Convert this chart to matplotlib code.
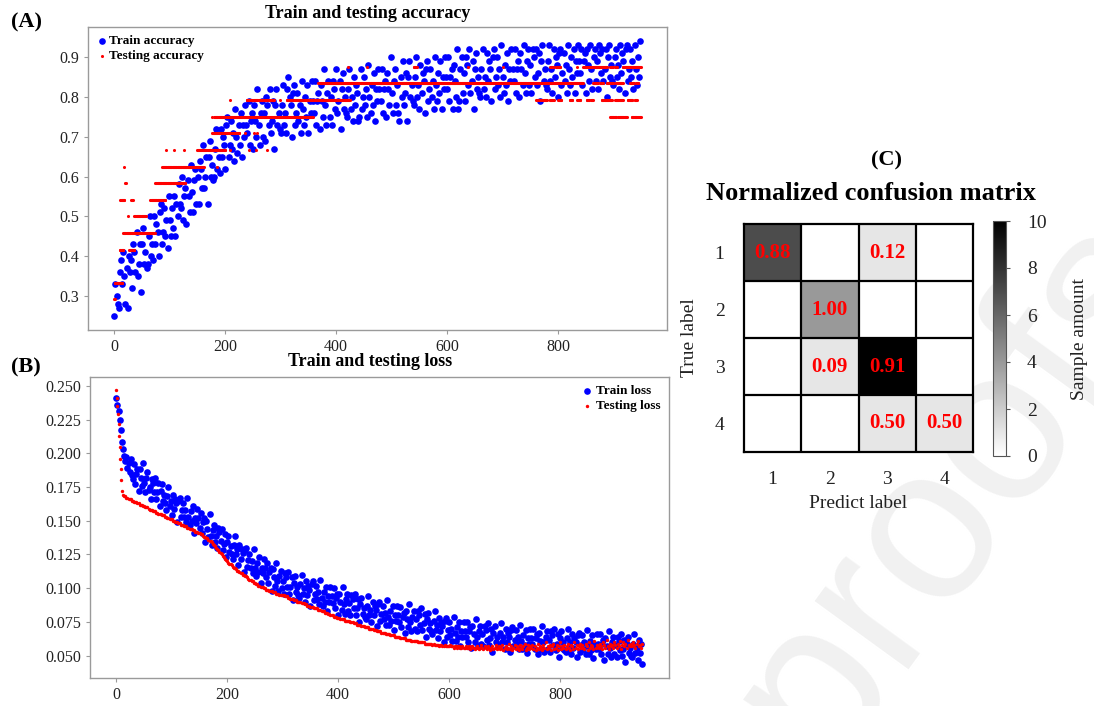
import numpy as np
import matplotlib
matplotlib.use("Agg")
import matplotlib.pyplot as plt

plt.rcParams["font.family"] = ["Liberation Serif", "DejaVu Serif"]

# ------------------------------------------------------------------ data
STEP = 2  # typed training curves are read every 2 epochs (0, 2, ..., 948)

# train accuracy, percent
train_acc_pct = [
    25,33,30,28,27,36,39,33,41,35,28,37,27,40,36,
    39,32,43,41,36,46,35,38,43,31,43,47,38,41,37,
    38,45,50,40,43,39,50,43,48,46,40,51,53,43,46,
    52,45,49,42,55,49,45,52,47,55,45,53,50,58,53,
    52,60,49,55,57,48,59,55,51,63,56,51,59,62,53,
    60,53,64,62,57,68,57,60,65,53,65,69,60,63,59,
    60,67,72,62,65,61,72,65,70,68,62,73,75,65,68,
    74,67,71,64,77,70,66,73,68,76,65,73,70,78,73,
    71,79,68,74,76,67,78,74,70,82,73,68,76,79,70,
    76,69,80,78,73,82,71,74,79,67,78,82,73,76,72,
    71,78,83,73,76,71,82,85,80,78,70,81,83,73,76,
    81,74,78,71,84,77,73,80,75,83,71,79,76,84,79,
    76,84,73,79,81,72,83,79,75,87,78,73,81,84,75,
    80,73,84,82,77,87,76,79,84,72,82,86,77,80,76,
    75,82,87,77,80,74,85,78,83,81,74,75,87,77,80,
    85,78,82,75,88,80,76,83,78,86,74,82,79,87,82,
    79,87,76,82,84,75,86,82,78,90,81,76,84,87,78,
    83,76,74,85,80,89,78,81,86,74,85,89,80,83,79,
    78,85,90,80,83,77,88,81,86,84,76,87,89,79,82,
    87,80,84,77,90,83,79,86,81,89,77,85,82,90,85,
    82,90,79,85,87,77,88,84,80,92,77,79,87,90,81,
    86,79,90,88,83,92,81,84,89,77,87,91,82,85,81,
    80,87,92,82,85,80,91,84,89,87,79,90,92,82,85,
    90,83,87,80,93,85,81,88,83,91,79,87,84,92,87,
    84,92,81,87,89,80,91,87,83,93,86,81,89,92,83,
    88,81,92,90,85,92,83,86,91,79,89,93,84,87,83,
    82,89,93,84,87,81,92,85,90,88,80,91,92,83,86,
    91,84,88,81,93,87,83,90,85,92,81,89,86,93,89,
    86,92,83,89,91,81,92,88,84,93,87,82,90,92,84,
    89,82,93,91,86,92,84,87,92,80,90,93,85,88,84,
    83,90,92,85,88,82,93,86,91,89,81,92,93,84,87,
    92,85,89,82,93,87,83,90,85,94,
]

# train loss, thousandths
train_loss_milli = [
    241,236,231,225,217,208,203,198,194,197,189,193,186,196,184,
    181,192,177,185,188,172,188,182,176,193,178,171,182,186,173,
    175,166,181,178,171,182,166,171,178,161,172,177,165,169,163,
    158,168,175,161,165,154,169,159,166,163,149,165,167,153,158,
    163,153,158,149,167,153,147,157,150,161,141,152,148,159,152,
    145,156,141,149,152,134,150,144,138,155,139,132,143,147,134,
    139,130,145,142,135,144,128,133,140,123,134,139,127,131,125,
    122,132,139,125,129,117,132,122,129,126,112,128,130,116,121,
    125,115,120,111,129,115,109,119,112,123,104,115,111,122,115,
    108,119,104,112,115,98,114,108,102,119,105,98,109,113,100,
    105,96,111,108,101,112,96,101,108,91,104,109,97,101,95,
    93,103,110,96,100,90,105,95,102,99,87,103,105,91,96,
    102,92,97,88,106,93,87,97,90,101,83,94,90,101,94,
    89,100,85,93,96,80,96,90,84,101,88,81,92,96,83,
    89,80,95,92,85,96,80,85,92,75,88,93,81,85,79,
    77,87,94,80,84,75,90,80,87,84,72,88,90,76,81,
    87,77,82,73,91,79,73,83,76,87,69,80,76,87,80,
    75,86,71,79,82,67,83,77,71,88,75,68,79,83,70,
    77,68,83,80,73,85,69,74,81,64,77,82,70,74,68,
    66,76,83,69,73,63,78,68,75,72,60,76,78,64,69,
    75,65,70,61,79,67,61,71,64,75,57,68,64,75,68,
    64,75,60,68,71,56,72,66,60,77,64,57,68,72,59,
    66,57,72,69,62,74,58,63,70,53,67,72,60,64,58,
    57,67,74,60,64,55,70,60,67,64,53,69,71,57,62,
    69,59,64,55,73,61,55,65,58,69,52,63,59,70,63,
    59,70,55,63,66,51,67,61,55,72,60,53,64,68,55,
    62,53,68,65,58,70,54,59,66,49,63,68,56,60,54,
    53,63,70,56,60,51,66,56,63,60,49,65,67,53,58,
    65,55,60,51,69,57,51,61,54,65,48,59,55,66,59,
    55,66,51,59,62,47,63,57,51,68,56,49,60,64,51,
    58,49,64,61,54,66,50,55,62,45,59,64,52,56,50,
    49,59,66,52,56,47,62,52,59,44,
]

# testing loss, thousandths (same epochs as above)
test_loss_milli = [
    247,235,222,205,188,172,169,168,168,167,167,166,166,166,165,
    165,164,164,164,163,163,162,162,162,161,161,160,160,160,159,
    158,158,158,157,157,157,156,156,155,155,155,154,154,154,153,
    153,152,152,151,151,151,150,150,149,149,149,148,148,147,147,
    147,146,146,146,145,145,144,144,144,143,143,142,142,142,141,
    141,140,140,139,138,138,137,137,136,135,135,134,133,132,131,
    130,129,128,127,126,125,124,123,122,121,120,119,118,118,117,
    116,115,115,114,113,113,112,111,111,110,110,109,109,108,107,
    106,106,105,105,104,104,103,103,102,102,101,101,101,100,100,
    99,99,99,98,98,98,97,97,97,96,96,96,95,95,95,
    95,95,94,94,94,93,93,92,92,92,91,91,91,90,90,
    90,90,89,89,89,88,88,87,87,87,86,86,86,85,85,
    85,85,84,84,84,83,83,83,82,82,82,81,81,80,80,
    80,79,79,79,78,78,78,77,77,77,77,76,76,76,76,
    76,75,75,75,74,74,74,73,73,73,73,72,72,72,71,
    71,71,71,70,70,70,70,69,69,69,68,68,68,68,67,
    67,67,67,66,66,66,66,65,65,65,65,64,64,64,64,
    64,63,63,63,63,63,62,62,62,62,62,61,61,61,61,
    61,61,60,60,60,60,60,60,59,59,59,59,59,59,59,
    58,59,58,58,58,58,57,58,58,57,57,58,57,57,57,
    57,58,57,57,56,57,57,56,57,57,56,56,57,56,56,
    57,56,56,57,55,56,57,56,55,56,57,56,55,56,58,
    56,55,57,56,55,57,56,54,56,57,55,56,58,55,56,
    57,55,56,58,54,56,57,55,56,59,55,57,54,56,58,
    55,57,56,54,58,56,55,57,59,54,56,58,55,57,56,
    58,55,57,54,56,59,55,57,56,54,58,56,60,55,57,
    56,58,54,57,59,55,56,58,54,57,60,55,57,56,58,
    55,57,59,56,54,58,57,55,60,56,58,55,57,59,56,
    58,56,55,59,57,54,60,56,58,57,55,61,56,58,57,
    56,59,57,55,60,58,56,62,57,55,59,57,58,56,60,
    58,56,59,57,61,55,58,60,57,59,56,62,58,57,59,
    57,60,58,56,59,61,57,58,56,59,
]
# extra testing-loss readings on the steep first epochs
test_loss_odd_epochs = [1, 3, 5, 7, 9]
test_loss_odd_milli = [241, 229, 213, 196, 180]

# testing accuracy: test set of 24 samples; (first epoch, last epoch, correct)
TEST_SIZE = 24
test_acc_segments = [
    (0, 1, 7), (1, 14, 8),
    (10, 16, 10), (27, 36, 10),
    (16, 73, 11),
    (25, 25, 12), (36, 57, 12),
    (11, 18, 13), (30, 33, 13), (65, 92, 13),
    (20, 21, 14), (74, 128, 14),
    (17, 17, 15), (86, 161, 15), (185, 185, 15),
    (93, 93, 16), (107, 107, 16), (125, 125, 16), (149, 200, 16), (209, 209, 16),
    (242, 242, 16), (256, 256, 16), (275, 275, 16),
    (176, 225, 17), (236, 236, 17), (252, 252, 17), (257, 257, 17),
    (176, 176, 18), (180, 358, 18),
    (894, 905, 18), (909, 924, 18), (933, 942, 18), (945, 949, 18),
    (209, 209, 19), (239, 287, 19), (299, 299, 19), (311, 425, 19),
    (761, 768, 19), (772, 780, 19), (785, 792, 19), (800, 806, 19), (821, 826, 19),
    (835, 840, 19), (852, 856, 19), (860, 863, 19), (879, 897, 19), (903, 917, 19),
    (926, 934, 19), (938, 942, 19),
    (368, 845, 20), (863, 872, 20), (876, 881, 20), (888, 900, 20), (904, 917, 20),
    (930, 937, 20), (941, 945, 20),
    (421, 421, 21), (455, 455, 21), (540, 545, 21), (638, 638, 21), (701, 701, 21),
    (786, 792, 21), (797, 804, 21), (834, 834, 21), (845, 888, 21), (894, 899, 21),
    (903, 906, 21), (917, 949, 21),
]

# confusion matrix
class_labels = ["1", "2", "3", "4"]
conf_counts = [[7, 0, 1, 0],
               [0, 4, 0, 0],
               [0, 1, 10, 0],
               [0, 0, 1, 1]]
conf_norm = [[0.88, 0.00, 0.12, 0.00],
             [0.00, 1.00, 0.00, 0.00],
             [0.00, 0.09, 0.91, 0.00],
             [0.00, 0.00, 0.50, 0.50]]
cbar_ticks = [0, 2, 4, 6, 8, 10]

# ------------------------------------------------------------------ figure
W, H = 1094, 706
fig = plt.figure(figsize=(W / 100, H / 100), dpi=100)
fig.patch.set_facecolor("white")

BLUE, RED = "#0000ff", "#ff0000"
TXT = "#222222"


def style_axes(ax):
    for sp in ax.spines.values():
        sp.set_color("#9a9a9a")
        sp.set_linewidth(1.0)
    ax.tick_params(colors="#9a9a9a", labelcolor=TXT, labelsize=11.5,
                   length=3, width=0.8)


# watermark
fig.text(0.875, 0.31, "proofs", rotation=54, fontsize=158, color="#f1f1f1",
         ha="center", va="center", family="Liberation Sans", zorder=-5)

# ---------------- (A) accuracy
axA = fig.add_axes([88 / W, 1 - 330 / H, 579 / W, 303 / H])
ep = np.arange(len(train_acc_pct)) * STEP
axA.scatter(ep, np.array(train_acc_pct) / 100.0, s=23, c=BLUE, linewidths=0,
            label="Train accuracy", zorder=2)
ta_x, ta_y = [], []
for s0, s1, k in test_acc_segments:
    e = np.arange(s0, s1 + 1)
    ta_x.append(e)
    ta_y.append(np.full(len(e), k / TEST_SIZE))
ta_x = np.concatenate(ta_x)
ta_y = np.concatenate(ta_y)
axA.scatter(ta_x, ta_y, s=5, c=RED, linewidths=0, label="Testing accuracy",
            zorder=3)
axA.set_xlim(-47.5, 996.5)
axA.set_ylim(0.215, 0.975)
axA.set_xticks([0, 200, 400, 600, 800])
axA.set_yticks([0.3, 0.4, 0.5, 0.6, 0.7, 0.8, 0.9])
style_axes(axA)
axA.legend(loc="upper left", frameon=False, prop={"weight": "bold", "size": 9.5},
           handletextpad=0.1, labelspacing=0.2, borderaxespad=0.2,
           handlelength=0.9, scatterpoints=1)

fig.text(368 / W, 1 - 14 / H, "Train and testing accuracy", ha="center",
         va="center", fontsize=13, fontweight="bold", color="black")
fig.text(27 / W, 1 - 22 / H, "(A)", ha="center", va="center", fontsize=16,
         fontweight="bold", color="black")

# ---------------- (B) loss
axB = fig.add_axes([90 / W, 1 - 678 / H, 579 / W, 301 / H])
axB.scatter(ep[:len(train_loss_milli)], np.array(train_loss_milli) / 1000.0,
            s=23, c=BLUE, linewidths=0, label="Train loss", zorder=2)
tl_x = np.concatenate([np.arange(len(test_loss_milli)) * STEP,
                       np.array(test_loss_odd_epochs)])
tl_y = np.concatenate([np.array(test_loss_milli),
                       np.array(test_loss_odd_milli)]) / 1000.0
axB.scatter(tl_x, tl_y, s=6, c=RED, linewidths=0, label="Testing loss", zorder=3)
axB.set_xlim(-47.5, 996.5)
axB.set_ylim(0.0335, 0.2565)
axB.set_xticks([0, 200, 400, 600, 800])
axB.set_yticks([0.05, 0.075, 0.1, 0.125, 0.15, 0.175, 0.2, 0.225, 0.25])
axB.set_yticklabels(["%.3f" % v for v in axB.get_yticks()])
style_axes(axB)
axB.legend(loc="upper right", frameon=False, prop={"weight": "bold", "size": 9.5},
           handletextpad=0.2, labelspacing=0.2, borderaxespad=0.2,
           handlelength=1.0, scatterpoints=1)

fig.text(370 / W, 1 - 362 / H, "Train and testing loss", ha="center",
         va="center", fontsize=13, fontweight="bold", color="black")
fig.text(26 / W, 1 - 367 / H, "(B)", ha="center", va="center", fontsize=16,
         fontweight="bold", color="black")

# ---------------- (C) confusion matrix
axC = fig.add_axes([744 / W, 1 - 452 / H, 229 / W, 228 / H])
im = axC.imshow(np.array(conf_counts), cmap="gray_r", vmin=0, vmax=10,
                aspect="auto", interpolation="nearest")
for i in range(1, len(class_labels)):
    axC.axhline(i - 0.5, color="black", lw=1.6)
    axC.axvline(i - 0.5, color="black", lw=1.6)
for sp in axC.spines.values():
    sp.set_color("black")
    sp.set_linewidth(1.6)
axC.set_xticks(range(len(class_labels)))
axC.set_yticks(range(len(class_labels)))
axC.set_xticklabels(class_labels)
axC.set_yticklabels(class_labels)
axC.tick_params(length=0, labelsize=14, labelcolor=TXT, pad=14)
for i, row in enumerate(conf_norm):
    for j, v in enumerate(row):
        if v > 0:
            axC.text(j, i, "%.2f" % v, ha="center", va="center", color=RED,
                     fontsize=15, fontweight="bold")
axC.set_xlabel("Predict label", fontsize=14, color=TXT, labelpad=5)
axC.set_ylabel("True label", fontsize=14, color=TXT, labelpad=12)

cax = fig.add_axes([993 / W, 1 - 456 / H, 13 / W, 235 / H])
cb = fig.colorbar(im, cax=cax, ticks=cbar_ticks)
cb.outline.set_edgecolor("#555555")
cb.outline.set_linewidth(0.8)
cb.ax.tick_params(labelsize=14, labelcolor=TXT, length=3, width=0.8,
                  color="#555555", pad=12)
cb.set_label("Sample amount", fontsize=14, color=TXT, labelpad=18)

fig.text(871 / W, 1 - 193 / H, "Normalized confusion matrix", ha="center",
         va="center", fontsize=19, fontweight="bold", color="black")
fig.text(887 / W, 1 - 160 / H, "(C)", ha="center", va="center", fontsize=16,
         fontweight="bold", color="black")

fig.savefig("out.png", dpi=100, facecolor="white")
